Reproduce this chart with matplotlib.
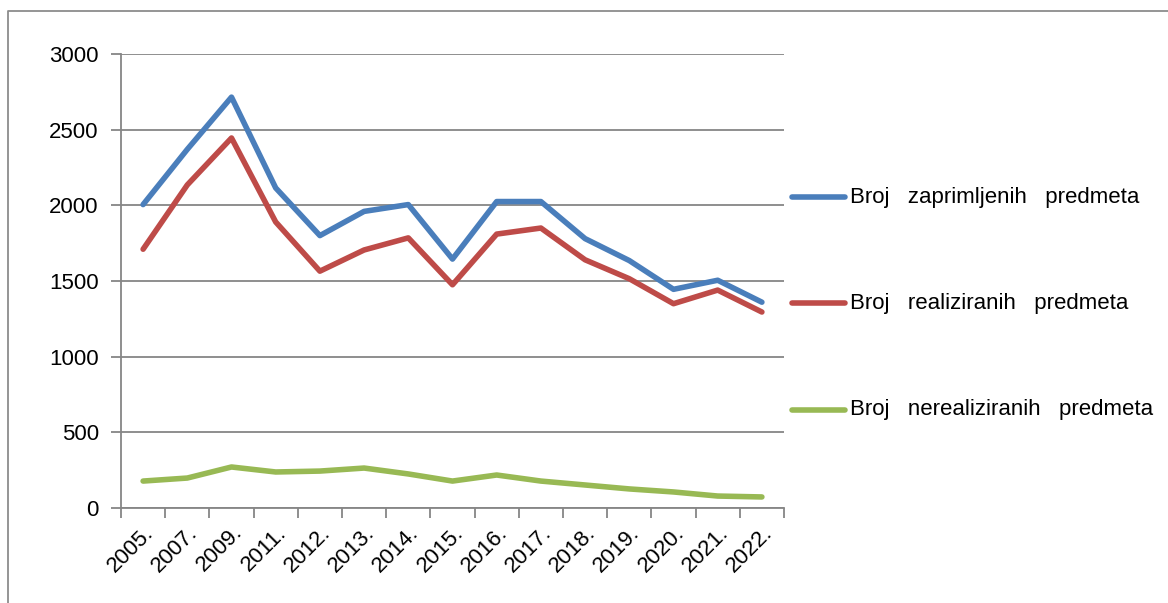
import numpy as np
import matplotlib.pyplot as plt
from matplotlib.lines import Line2D

plt.rcParams['font.family'] = ['Liberation Sans Narrow', 'Liberation Sans', 'DejaVu Sans']

godine = ["2005.", "2007.", "2009.", "2011.", "2012.", "2013.", "2014.", "2015.",
          "2016.", "2017.", "2018.", "2019.", "2020.", "2021.", "2022."]
zaprimljeni = [2005, 2370, 2715, 2115, 1800, 1960, 2005, 1645,
               2025, 2025, 1780, 1635, 1445, 1505, 1360]
realizirani = [1710, 2135, 2445, 1890, 1565, 1705, 1785, 1475,
               1810, 1850, 1640, 1515, 1350, 1440, 1295]
nerealizirani = [178, 198, 271, 238, 244, 264, 225, 178,
                 218, 178, 152, 126, 106, 79, 73]

nazivi = ["Broj   zaprimljenih   predmeta", "Broj   realiziranih   predmeta",
          "Broj   nerealiziranih   predmeta"]
boje = ["#4a7ebb", "#be4b48", "#98b954"]

fig = plt.figure(figsize=(11.68, 6.03), dpi=100)
ax = fig.add_axes([121/1168, 1-508/603, (784-121)/1168, (508-54)/603])

x = np.arange(len(godine))
for serija, boja in zip([zaprimljeni, realizirani, nerealizirani], boje):
    ax.plot(x, serija, color=boja, lw=4, solid_capstyle='round', solid_joinstyle='round')

ax.set_xlim(-0.5, len(godine) - 0.5)
ax.set_ylim(0, 3000)
ax.set_yticks(range(0, 3001, 500))
ax.yaxis.grid(True, color="#868686", lw=1.3)
ax.set_axisbelow(True)
for s in ["top", "right"]:
    ax.spines[s].set_visible(False)
for s in ["left", "bottom"]:
    ax.spines[s].set_color("#868686")
    ax.spines[s].set_linewidth(1.3)

ax.set_xticks(np.arange(-0.5, len(godine), 1))
ax.set_xticklabels([])
ax.set_xticks(x, minor=True)
ax.set_xticklabels(godine, minor=True, rotation=45, ha='right', va='top',
                   rotation_mode='anchor', fontsize=16)
ax.tick_params(axis='x', which='major', length=7, color="#868686", width=1.3, direction='out')
ax.tick_params(axis='x', which='minor', length=0, pad=10)
ax.tick_params(axis='y', length=7, color="#868686", width=1.3, labelsize=16, pad=9)

# legenda desno
leg_y = [197, 303, 410]
for naziv, boja, yy in zip(nazivi, boje, leg_y):
    fy = 1 - yy/603
    fig.add_artist(Line2D([792/1168, 845/1168], [fy, fy], color=boja, lw=4,
                          solid_capstyle='round'))
    fig.text(850/1168, fy, naziv, fontsize=16, va='center', ha='left')

# okvir grafikona
fig.add_artist(Line2D([8/1168, 8/1168, 1.0], [0, 1-11/603, 1-11/603],
                      color="#8c8c8c", lw=1.3))

plt.savefig("out.png", dpi=100)
